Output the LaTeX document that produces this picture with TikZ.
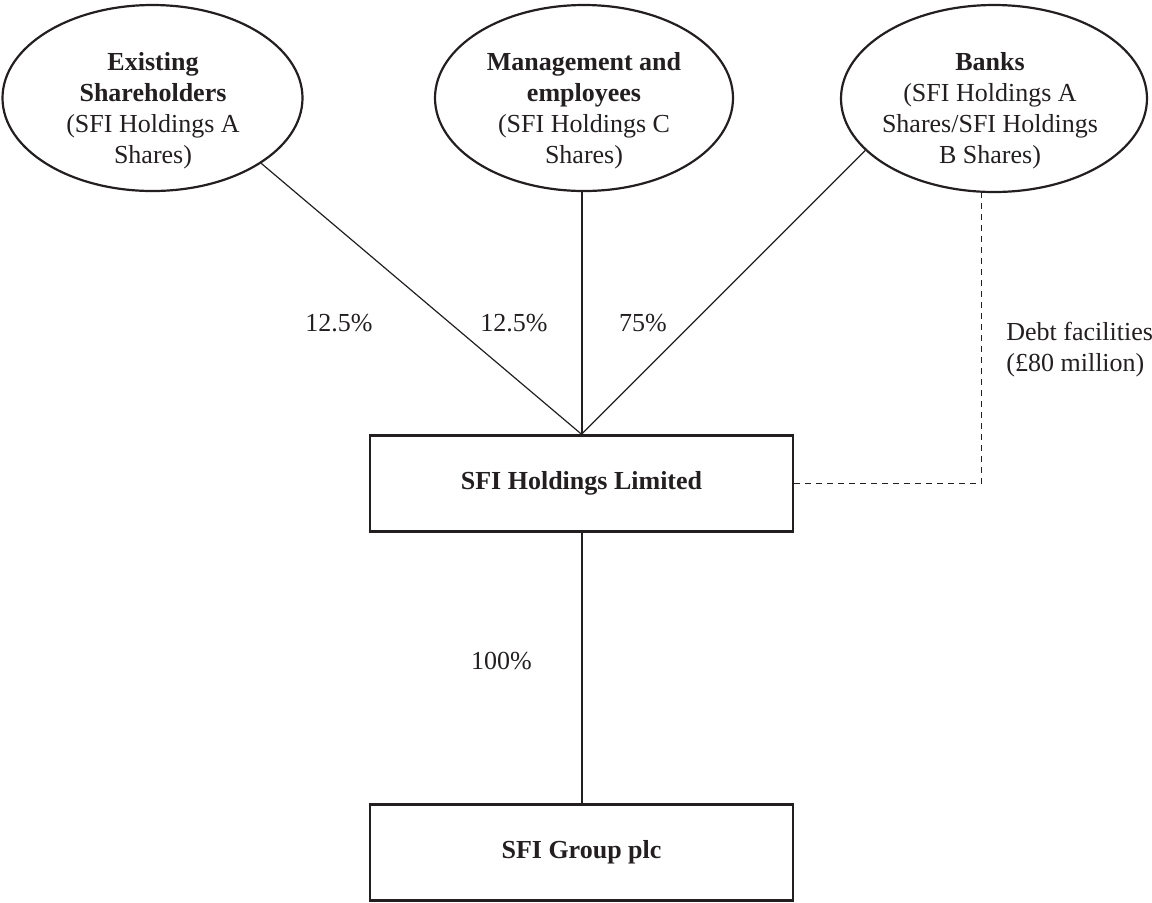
\documentclass[tikz,border=0pt]{standalone}
\usepackage{fontspec}
\setmainfont{Liberation Serif}
\usetikzlibrary{shapes.geometric}
\definecolor{ink}{HTML}{231F20}

\begin{document}
\begin{tikzpicture}[x=0.5pt, y=-0.5pt,
    font=\fontsize{13}{15.5}\selectfont,
    holder/.style={ellipse, draw=ink, line width=1.1pt, inner sep=0pt},
    holdertext/.style={align=center, text=ink, inner sep=0pt},
    company/.style={rectangle, draw=ink, line width=1.3pt, text=ink,
      minimum width=211.5pt, minimum height=48pt, font=\fontsize{13}{15.5}\selectfont\bfseries},
    link/.style={draw=ink, line width=0.6pt},
    stem/.style={draw=ink, line width=1pt},
    debt/.style={draw=ink, line width=0.6pt, dash pattern=on 3pt off 2.5pt},
    share/.style={text=ink, inner sep=0pt}]
  \useasboundingbox (0,0) rectangle (1152,902);
  % shareholders
  \node [holder, minimum width=150pt, minimum height=93pt] (exist) at (152.5,98) {};
  \node [holder, minimum width=149pt, minimum height=93pt] (mgmt) at (584,98) {};
  \node [holder, minimum width=153pt, minimum height=93.5pt] (banks) at (994,98.5) {};
  \node [holdertext] (exist-t) at (153,111) {\textbf{Existing}\\\textbf{Shareholders}\\(SFI Holdings A\\Shares)};
  \node [holdertext] (mgmt-t) at (584,111) {\textbf{Management and}\\\textbf{employees}\\(SFI Holdings C\\Shares)};
  \node [holdertext] (banks-t) at (990,111) {\textbf{Banks}\\(SFI Holdings A\\Shares/SFI Holdings\\B Shares)};
  % companies
  \node [company] (hold) at (581.5,483.5) {SFI Holdings Limited};
  \node [company] (group) at (581.5,852.5) {SFI Group plc};
  % holdings
  \draw [link] (exist.329) -- (hold.north);
  \draw [stem] (hold.north |- mgmt.south) -- (hold.north);
  \draw [link] (banks.202) -- (hold.north);
  \draw [stem] (hold.south) -- (group.north);
  % debt
  \coordinate (bend) at (981.5,483.5);
  \draw [debt] (hold.east) -- (bend) -- (bend |- banks.south);
  % percentages
  \node [share] (p-exist) at (339,323) {12.5\%};
  \node [share] (p-mgmt) at (514,323) {12.5\%};
  \node [share] (p-banks) at (643,323) {75\%};
  \node [share] (p-group) at (501.5,661) {100\%};
  \node [share, align=left, anchor=west] (debt-t) at (1006,350) {Debt facilities\\(£80 million)};
\end{tikzpicture}
\end{document}
